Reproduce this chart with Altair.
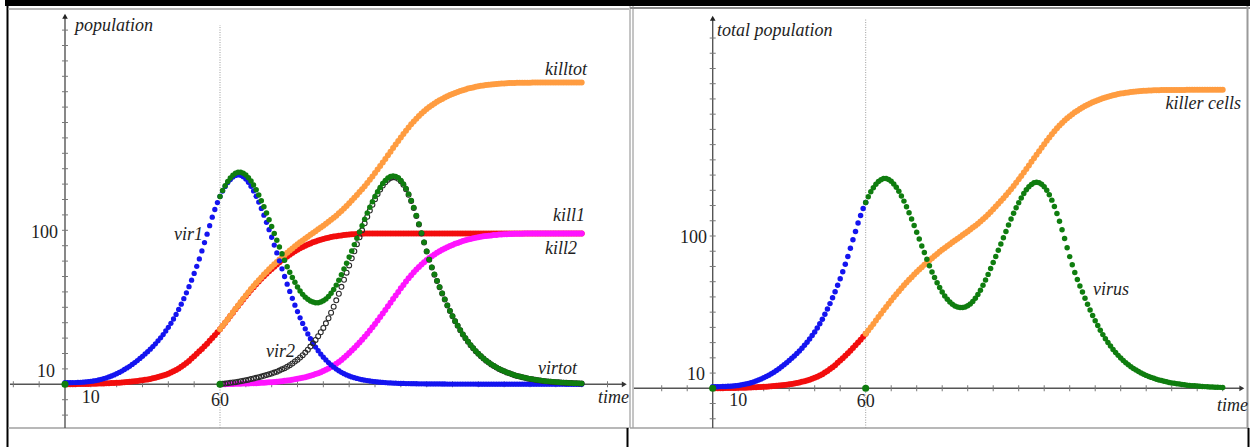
import altair as alt
import pandas as pd

# ---------------------------------------------------------------------------
# Model output, one value per time step (t = 0 .. 200)
# ---------------------------------------------------------------------------
T_SWITCH = 60          # second strain and second killer-cell line start here

VIR1 = [
    1.0, 1.0, 1.05, 1.1, 1.15, 1.2, 1.3, 1.4, 1.55, 1.7,
    1.9, 2.15, 2.45, 2.8, 3.2, 3.7, 4.2, 4.8, 5.4, 6.1,
    6.9, 7.7, 8.6, 9.6, 10.6, 11.7, 12.9, 14.1, 15.4, 16.8,
    18.2, 19.7, 21.2, 22.8, 24.5, 26.3, 28.2, 30.2, 32.3, 34.6,
    37.0, 39.6, 42.4, 45.4, 48.6, 52.0, 55.6, 59.4, 63.4, 67.6,
    72.0, 76.6, 81.4, 86.6, 92.0, 97.5, 103.0, 108.5, 113.5, 118.0,
    122.0, 125.5, 128.5, 131.0, 133.0, 134.6, 135.6, 136.0, 135.7, 134.8,
    133.3, 131.2, 128.6, 125.6, 122.1, 118.3, 114.2, 109.8, 105.2, 100.4,
    95.5, 90.4, 85.3, 80.2, 75.0, 70.0, 65.0, 60.3, 55.8, 51.4,
    47.2, 43.2, 39.5, 36.0, 32.7, 29.6, 26.8, 24.2, 21.8, 19.6,
    17.6, 15.8, 14.1, 12.6, 11.2, 9.9, 8.8, 7.8, 6.9, 6.1,
    5.4, 4.8, 4.3, 3.8, 3.4, 3.0, 2.7, 2.4, 2.15, 1.9,
    1.7, 1.52, 1.36, 1.22, 1.1, 0.99, 0.89, 0.8, 0.72, 0.65,
    0.59, 0.54, 0.49, 0.45, 0.41, 0.38, 0.35, 0.32, 0.3, 0.28,
    0.26, 0.25, 0.24, 0.23, 0.22, 0.21, 0.2, 0.19, 0.18, 0.17,
    0.16, 0.16, 0.15, 0.15, 0.14, 0.14, 0.13, 0.13, 0.12, 0.12,
    0.11, 0.11, 0.1, 0.1, 0.1, 0.09, 0.09, 0.09, 0.08, 0.08,
    0.08, 0.07, 0.07, 0.07, 0.07, 0.07, 0.07, 0.07, 0.06, 0.06,
    0.06, 0.06, 0.06, 0.06, 0.06, 0.06, 0.05, 0.05, 0.05, 0.05,
    0.05, 0.05, 0.05, 0.05, 0.04, 0.04, 0.04, 0.04, 0.04, 0.04,
    0.04,
]

KILL1 = [
    0.0, 0.02, 0.04, 0.07, 0.1, 0.13, 0.16, 0.19, 0.22, 0.26,
    0.3, 0.34, 0.39, 0.44, 0.5, 0.56, 0.63, 0.7, 0.78, 0.87,
    0.97, 1.08, 1.2, 1.33, 1.47, 1.62, 1.79, 1.97, 2.17, 2.39,
    2.63, 2.9, 3.19, 3.51, 3.86, 4.25, 4.68, 5.15, 5.67, 6.24,
    6.87, 7.6, 8.4, 9.3, 10.3, 11.4, 12.6, 13.9, 15.2, 16.7,
    18.2, 19.8, 21.4, 23.0, 24.7, 26.4, 28.2, 30.0, 31.9, 33.8,
    35.8, 37.9, 40.0, 42.1, 44.3, 46.5, 48.7, 50.9, 53.0, 55.1,
    57.2, 59.2, 61.2, 63.1, 65.0, 66.8, 68.5, 70.2, 71.8, 73.4,
    74.9, 76.4, 77.8, 79.2, 80.5, 81.8, 83.0, 84.2, 85.3, 86.4,
    87.4, 88.3, 89.2, 90.0, 90.8, 91.5, 92.2, 92.8, 93.4, 93.9,
    94.4, 94.8, 95.2, 95.6, 95.9, 96.2, 96.5, 96.7, 96.9, 97.1,
    97.3, 97.4, 97.5, 97.6, 97.7, 97.8, 97.85, 97.9, 97.95, 98.0,
    98.0, 98.0, 98.0, 98.0, 98.0, 98.0, 98.0, 98.0, 98.0, 98.0,
    98.0, 98.0, 98.0, 98.0, 98.0, 98.0, 98.0, 98.0, 98.0, 98.0,
    98.0, 98.0, 98.0, 98.0, 98.0, 98.0, 98.0, 98.0, 98.0, 98.0,
    98.0, 98.0, 98.0, 98.0, 98.0, 98.0, 98.0, 98.0, 98.0, 98.0,
    98.0, 98.0, 98.0, 98.0, 98.0, 98.0, 98.0, 98.0, 98.0, 98.0,
    98.0, 98.0, 98.0, 98.0, 98.0, 98.0, 98.0, 98.0, 98.0, 98.0,
    98.0, 98.0, 98.0, 98.0, 98.0, 98.0, 98.0, 98.0, 98.0, 98.0,
    98.0, 98.0, 98.0, 98.0, 98.0, 98.0, 98.0, 98.0, 98.0, 98.0,
    98.0,
]

# second strain and second killer line, t = 60 .. 200
VIR2 = [
    0.0, 0.3, 0.5, 0.7, 1.0, 1.2, 1.4, 1.7, 2.0, 2.3,
    2.6, 3.0, 3.4, 3.8, 4.2, 4.6, 5.0, 5.5, 6.0, 6.5,
    7.0, 7.6, 8.2, 8.9, 9.7, 10.5, 11.4, 12.4, 13.5, 14.8,
    16.0, 17.4, 18.9, 20.6, 22.5, 24.5, 26.6, 28.8, 31.2, 33.8,
    36.6, 39.6, 42.9, 46.5, 50.4, 54.5, 58.8, 63.3, 67.9, 72.5,
    77.2, 81.8, 86.4, 91.0, 95.5, 100.0, 104.5, 108.8, 112.8, 116.6,
    120.2, 123.5, 126.5, 129.1, 131.2, 132.9, 134.0, 134.5, 134.3, 133.4,
    131.8, 129.5, 126.6, 123.1, 119.0, 114.4, 109.3, 103.8, 98.0, 92.0,
    86.2, 80.8, 75.8, 71.2, 67.0, 63.0, 59.0, 55.0, 51.2, 47.6,
    44.2, 41.0, 38.0, 35.1, 32.4, 29.9, 27.6, 25.4, 23.4, 21.5,
    19.8, 18.2, 16.7, 15.3, 14.1, 12.9, 11.9, 10.9, 10.0, 9.2,
    8.4, 7.7, 7.1, 6.5, 5.9, 5.4, 5.0, 4.6, 4.2, 3.8,
    3.5, 3.2, 2.9, 2.7, 2.4, 2.2, 2.0, 1.85, 1.7, 1.55,
    1.4, 1.28, 1.16, 1.05, 0.95, 0.86, 0.78, 0.7, 0.63, 0.57,
    0.5,
]

KILL2 = [
    0.0, 0.05, 0.1, 0.15, 0.2, 0.25, 0.3, 0.35, 0.4, 0.45,
    0.5, 0.56, 0.62, 0.69, 0.76, 0.84, 0.93, 1.03, 1.14, 1.26,
    1.39, 1.53, 1.68, 1.85, 2.03, 2.23, 2.45, 2.69, 2.95, 3.23,
    3.54, 3.88, 4.25, 4.65, 5.09, 5.56, 6.07, 6.62, 7.21, 7.88,
    8.6, 9.4, 10.3, 11.2, 12.2, 13.3, 14.5, 15.8, 17.2, 18.7,
    20.3, 21.9, 23.6, 25.3, 27.1, 28.9, 30.8, 32.8, 34.9, 37.0,
    39.2, 41.4, 43.7, 46.0, 48.3, 50.7, 53.0, 55.4, 57.7, 60.0,
    62.3, 64.5, 66.7, 68.8, 70.8, 72.7, 74.5, 76.2, 77.8, 79.3,
    80.7, 82.0, 83.2, 84.3, 85.4, 86.4, 87.3, 88.2, 89.0, 89.8,
    90.5, 91.2, 91.8, 92.4, 93.0, 93.5, 94.0, 94.4, 94.8, 95.2,
    95.5, 95.8, 96.1, 96.3, 96.5, 96.7, 96.9, 97.0, 97.2, 97.3,
    97.4, 97.5, 97.6, 97.65, 97.7, 97.75, 97.8, 97.82, 97.85, 97.87,
    97.89, 97.9, 97.91, 97.92, 97.93, 97.94, 97.95, 97.96, 97.97, 97.97,
    97.98, 97.98, 97.98, 97.99, 97.99, 97.99, 98.0, 98.0, 98.0, 98.0,
    98.0,
]

# tick marks along the axes (every 10 units)
LEFT_XTICKS = [-20, -10] + list(range(10, 220, 10))
LEFT_YTICKS = [-20, -10] + list(range(10, 240, 10))
RIGHT_XTICKS = [-20, -10] + list(range(10, 210, 10))
RIGHT_YTICKS = [-20, -10] + list(range(10, 240, 10))

# ---------------------------------------------------------------------------
# Tables
# ---------------------------------------------------------------------------
early = pd.DataFrame({"t": list(range(0, len(VIR1))), "vir1": VIR1, "kill1": KILL1})
late = pd.DataFrame({"t": list(range(T_SWITCH, T_SWITCH + len(VIR2))), "vir2": VIR2, "kill2": KILL2})
late["virtot"] = late["vir2"].values + early["vir1"].values[T_SWITCH:]
late["killtot"] = late["kill2"].values + early["kill1"].values[T_SWITCH:]
first_phase = early[early["t"] <= T_SWITCH]

# ---------------------------------------------------------------------------
# Styling
# ---------------------------------------------------------------------------
BLUE = "#1414f0"
RED = "#f20d0d"
MAGENTA = "#ff14ff"
ORANGE = "#ff9c40"
GREEN = "#0f7d0f"
AXIS = "#555555"
TICK = "#777777"
FONT = "'Liberation Serif', 'Times New Roman', 'DejaVu Serif', serif"

# each screen panel: data window mapped onto its pixel area
PANELS = {
    "left": {"x": ([0, 60], [65.0, 220.0]), "y": ([0, 100], [384.3, 230.3])},
    "right": {"x": ([0, 60], [712.7, 865.7]), "y": ([0, 100], [388.3, 236.0])},
}


def xs(p):
    d, r = PANELS[p]["x"]
    return alt.Scale(domain=d, range=r, nice=False, zero=False)


def ys(p):
    d, r = PANELS[p]["y"]
    return alt.Scale(domain=d, range=r, nice=False, zero=False)


def dots(df, field, panel, color, size, hollow=False):
    if hollow:
        base = alt.Chart(df).mark_point(shape="circle", filled=False, color=color,
                                        size=size, strokeWidth=1.1, opacity=1)
    else:
        base = alt.Chart(df).mark_circle(color=color, size=size, opacity=1)
    return base.encode(
        x=alt.X("t:Q", scale=xs(panel), axis=None),
        y=alt.Y(f"{field}:Q", scale=ys(panel), axis=None),
    )


def axes(panel, x_lo, x_hi, y_lo, y_hi, xticks, yticks, dash_top):
    sx, sy = xs(panel), ys(panel)
    layers = []
    layers.append(
        alt.Chart(pd.DataFrame({"a": [x_lo], "b": [x_hi], "y": [0]}))
        .mark_rule(color=AXIS, strokeWidth=1.4)
        .encode(x=alt.X("a:Q", scale=sx, axis=None), x2="b:Q", y=alt.Y("y:Q", scale=sy, axis=None))
    )
    layers.append(
        alt.Chart(pd.DataFrame({"x": [0], "a": [y_lo], "b": [y_hi]}))
        .mark_rule(color=AXIS, strokeWidth=1.4)
        .encode(x=alt.X("x:Q", scale=sx, axis=None), y=alt.Y("a:Q", scale=sy, axis=None), y2="b:Q")
    )
    layers.append(
        alt.Chart(pd.DataFrame({"x": xticks, "y": [0] * len(xticks)}))
        .mark_tick(orient="vertical", size=6, thickness=1, color=TICK, opacity=1)
        .encode(x=alt.X("x:Q", scale=sx, axis=None), y=alt.Y("y:Q", scale=sy, axis=None))
    )
    layers.append(
        alt.Chart(pd.DataFrame({"x": [0] * len(yticks), "y": yticks}))
        .mark_tick(orient="horizontal", size=6, thickness=1, color=TICK, opacity=1)
        .encode(x=alt.X("x:Q", scale=sx, axis=None), y=alt.Y("y:Q", scale=sy, axis=None))
    )
    layers.append(
        alt.Chart(pd.DataFrame({"x": [x_hi], "y": [0]}))
        .mark_point(shape="triangle-right", filled=True, size=32, color="#333333", opacity=1)
        .encode(x=alt.X("x:Q", scale=sx, axis=None), y=alt.Y("y:Q", scale=sy, axis=None))
    )
    layers.append(
        alt.Chart(pd.DataFrame({"x": [0], "y": [y_hi]}))
        .mark_point(shape="triangle-up", filled=True, size=32, color="#222222", opacity=1)
        .encode(x=alt.X("x:Q", scale=sx, axis=None), y=alt.Y("y:Q", scale=sy, axis=None))
    )
    layers.append(
        alt.Chart(pd.DataFrame({"x": [T_SWITCH], "a": [y_lo], "b": [dash_top]}))
        .mark_rule(color="#9a9a9a", strokeWidth=1, strokeDash=[1, 1.5])
        .encode(x=alt.X("x:Q", scale=sx, axis=None), y=alt.Y("a:Q", scale=sy, axis=None), y2="b:Q")
    )
    return layers


def markers(panel):
    return (
        alt.Chart(pd.DataFrame({"t": [0, T_SWITCH], "v": [0, 0]}))
        .mark_circle(color=GREEN, size=50, opacity=1)
        .encode(x=alt.X("t:Q", scale=xs(panel), axis=None), y=alt.Y("v:Q", scale=ys(panel), axis=None))
    )


def labels(panel, rows):
    df = pd.DataFrame(rows, columns=["text", "t", "v", "align", "style"])
    out = []
    for (align, style), grp in df.groupby(["align", "style"]):
        out.append(
            alt.Chart(grp)
            .mark_text(align=align, baseline="alphabetic", font=FONT, fontSize=18,
                       fontStyle=style, color="#1e1e1e")
            .encode(
                x=alt.X("t:Q", scale=xs(panel), axis=None),
                y=alt.Y("v:Q", scale=ys(panel), axis=None),
                text="text:N",
            )
        )
    return out


LEFT_TEXT = [
    ("population", 3.9, 229.4, "left", "italic"),
    ("killtot", 202.1, 200.8, "right", "italic"),
    ("kill1", 201.3, 106.0, "right", "italic"),
    ("kill2", 198.2, 84.6, "right", "italic"),
    ("vir1", 53.4, 93.7, "right", "italic"),
    ("vir2", 89.0, 17.9, "right", "italic"),
    ("virtot", 198.2, 6.7, "right", "italic"),
    ("time", 206.3, -12.1, "left", "italic"),
    ("100", -2.7, 95.0, "right", "normal"),
    ("10", -3.9, 4.9, "right", "normal"),
    ("10", 10, -12.1, "center", "normal"),
    ("60", 60, -13.9, "center", "normal"),
]

RIGHT_TEXT = [
    ("total population", 1.7, 231.6, "left", "italic"),
    ("killer cells", 207.2, 183.4, "right", "italic"),
    ("virus", 149.1, 61.3, "left", "italic"),
    ("time", 197.8, -14.7, "left", "italic"),
    ("100", -2.2, 95.2, "right", "normal"),
    ("10", -3.0, 5.4, "right", "normal"),
    ("10", 10, -11.4, "center", "normal"),
    ("60", 60, -12.5, "center", "normal"),
]

# screen frames around the two panels (pixel units)
FRAME = pd.DataFrame(
    [
        (5, 1250, 3, 3, "#000000", 6),
        (7.5, 7.5, 0, 447, "#000000", 2),
        (8, 629, 9, 9, "#a0a0a0", 1.5),
        (8, 629, 428, 428, "#a0a0a0", 1.5),
        (630, 1250, 8, 8, "#8a8a8a", 2),
        (630, 630, 6, 428, "#8a8a8a", 1),
        (633, 633, 6, 428, "#8a8a8a", 1),
        (1247.5, 1247.5, 6, 428, "#9a9a9a", 2),
        (630, 1249, 428, 428, "#a0a0a0", 1.5),
        (627.5, 627.5, 428, 447, "#000000", 2),
        (1248.5, 1248.5, 428, 447, "#000000", 2),
    ],
    columns=["x", "x2", "y", "y2", "c", "w"],
)

frame = alt.Chart(FRAME).mark_rule().encode(
    x=alt.X("x:Q", scale=None, axis=None),
    x2="x2:Q",
    y=alt.Y("y:Q", scale=None, axis=None),
    y2="y2:Q",
    color=alt.Color("c:N", scale=None),
    strokeWidth=alt.StrokeWidth("w:Q", scale=None),
)

left_layers = axes("left", -21.3, 216.5, -28.4, 239.0, LEFT_XTICKS, LEFT_YTICKS, 233.3) + [
    dots(early, "kill1", "left", RED, 36),
    dots(late, "kill2", "left", MAGENTA, 36),
    dots(late, "killtot", "left", ORANGE, 36),
    dots(early, "vir1", "left", BLUE, 28),
    dots(late, "vir2", "left", "#2a2a2a", 24, hollow=True),
    dots(late, "virtot", "left", GREEN, 30),
    markers("left"),
] + labels("left", LEFT_TEXT)

right_layers = axes("right", -30.9, 207.5, -26.1, 243.0, RIGHT_XTICKS, RIGHT_YTICKS, 243.1) + [
    dots(first_phase, "kill1", "right", RED, 36),
    dots(late, "killtot", "right", ORANGE, 36),
    dots(first_phase, "vir1", "right", BLUE, 30),
    dots(late, "virtot", "right", GREEN, 30),
    markers("right"),
] + labels("right", RIGHT_TEXT)

chart = (
    alt.layer(frame, *left_layers, *right_layers)
    .resolve_scale(x="independent", y="independent")
    .properties(
        width=1250,
        height=447,
        padding=0,
        autosize=alt.AutoSizeParams(type="none"),
        background="white",
    )
    .configure_view(stroke=None)
)

chart.save("out.html", embed_options={"renderer": "svg", "actions": False})
